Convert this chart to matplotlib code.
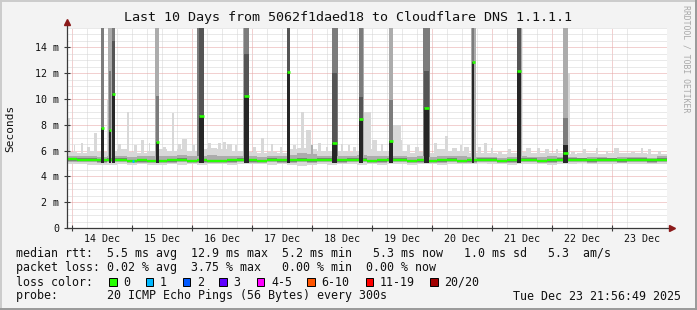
import datetime as dt
import matplotlib
matplotlib.use("Agg")
import matplotlib.pyplot as plt
import matplotlib.dates as mdates
from matplotlib.patches import Rectangle
from matplotlib.lines import Line2D

# ---- data ----
start = dt.datetime(2025, 12, 13, 21, 56, 49)
end = dt.datetime(2025, 12, 23, 21, 56, 49)
bin_hours = 4

# median rtt per 4 h bin (ms)
median_rtt = [5.35, 5.3, 5.3, 5.25, 5.3, 5.3, 5.2, 5.25, 5.2, 5.2,
              5.25, 5.3, 5.2, 5.25, 5.2, 5.2, 5.25, 5.3, 5.25, 5.2,
              5.3, 5.25, 5.25, 5.3, 5.25, 5.3, 5.3, 5.25, 5.3, 5.3,
              5.2, 5.25, 5.3, 5.3, 5.2, 5.25, 5.2, 5.25, 5.3, 5.2,
              5.25, 5.3, 5.3, 5.2, 5.25, 5.3, 5.3, 5.2, 5.25, 5.3,
              5.3, 5.3, 5.25, 5.3, 5.3, 5.25, 5.3, 5.3, 5.25, 5.3]
smoke_low = [4.95, 4.95, 4.9, 4.85, 4.9, 4.95, 4.9, 4.95, 4.9, 4.9,
             4.95, 4.9, 4.95, 4.9, 4.95, 4.95, 4.9, 4.95, 4.95, 4.95,
             4.9, 4.95, 4.9, 4.8, 4.85, 4.95, 4.9, 4.95, 4.95, 4.9,
             4.95, 4.9, 4.95, 4.95, 4.9, 4.95, 4.95, 4.9, 4.95, 4.95,
             4.95, 5.0, 4.95, 4.95, 4.9, 4.95, 4.95, 4.95, 4.9, 4.95,
             4.95, 5.0, 4.95, 4.95, 4.95, 5.0, 4.95, 4.95, 4.95, 4.95]
smoke_mid = [5.6, 5.55, 5.55, 5.5, 5.55, 5.55, 5.5, 5.55, 5.6, 5.55,
             5.55, 5.65, 5.55, 5.6, 5.65, 5.55, 5.55, 5.6, 5.55, 5.5,
             5.55, 5.55, 5.65, 5.85, 5.7, 5.55, 5.55, 5.6, 5.55, 5.65,
             5.6, 5.55, 5.55, 5.55, 5.5, 5.55, 5.5, 5.6, 5.55, 5.55,
             5.5, 5.5, 5.5, 5.45, 5.5, 5.55, 5.5, 5.5, 5.55, 5.5,
             5.5, 5.45, 5.5, 5.5, 5.45, 5.5, 5.5, 5.5, 5.45, 5.55]
smoke_high = [5.9, 5.85, 6.0, 5.9, 6.0, 6.1, 5.9, 5.85, 6.0, 6.1,
              6.0, 6.1, 6.0, 6.1, 6.2, 6.1, 6.0, 6.0, 5.9, 5.85,
              5.9, 5.85, 6.1, 6.2, 6.1, 6.0, 6.0, 6.0, 5.9, 6.0,
              6.1, 6.0, 6.0, 5.95, 5.85, 5.9, 5.85, 6.1, 6.0, 5.95,
              5.85, 5.8, 5.8, 5.75, 5.8, 5.9, 5.8, 5.85, 5.85, 5.8,
              5.75, 5.8, 5.8, 5.75, 5.85, 5.8, 5.8, 5.85, 5.75, 5.75]

# narrow smoke columns: hour after start, width (h), top (ms), density 0..2
tufts = [(0.6, 1.2, 8.5, 0), (3.0, 0.8, 6.4, 0), (6.0, 1.0, 6.6, 0),
         (8.5, 1.0, 6.3, 0), (11.4, 1.6, 7.4, 0), (16.3, 0.8, 9.9, 0),
         (17.8, 3.0, 16.0, 1), (21.0, 1.0, 6.5, 0), (24.5, 1.0, 9.0, 0),
         (27.5, 1.0, 6.4, 0), (30.0, 1.2, 6.8, 0), (33.0, 0.8, 6.6, 0),
         (36.0, 2.0, 16.0, 1), (39.0, 1.0, 6.3, 0), (42.4, 1.2, 8.9, 0),
         (45.0, 1.0, 6.5, 0), (47.0, 2.0, 6.9, 0), (50.5, 1.0, 6.4, 0),
         (53.4, 2.6, 16.0, 2), (57.0, 1.2, 6.6, 0), (61.0, 1.5, 6.6, 0),
         (63.0, 1.0, 6.7, 0), (65.0, 2.0, 6.5, 0), (67.5, 1.0, 6.4, 0),
         (71.6, 2.8, 16.0, 1), (75.0, 1.0, 6.3, 0), (78.0, 1.2, 7.0, 0),
         (82.0, 1.2, 6.5, 0), (85.5, 1.0, 6.3, 0), (88.6, 1.6, 16.0, 1),
         (91.0, 1.0, 6.4, 0), (94.2, 1.6, 9.0, 0), (96.6, 2.0, 7.6, 0),
         (98.0, 1.0, 6.4, 1), (101.0, 1.2, 6.6, 0), (104.0, 1.0, 6.3, 0),
         (107.2, 2.4, 16.0, 2), (110.0, 1.0, 6.5, 0), (112.8, 1.2, 6.4, 0),
         (115.0, 1.0, 6.3, 0), (117.8, 2.2, 16.0, 1), (120.2, 2.8, 9.0, 0),
         (123.0, 2.0, 6.8, 0), (126.0, 1.0, 6.5, 0), (129.6, 1.8, 16.0, 0),
         (131.8, 3.2, 8.0, 0), (133.5, 1.0, 6.8, 0), (136.5, 1.0, 6.4, 0),
         (140.0, 1.4, 6.3, 0), (143.8, 2.6, 16.0, 2), (147.5, 1.2, 6.6, 0),
         (151.6, 1.2, 7.1, 0), (154.8, 2.0, 6.2, 0), (157.5, 1.0, 6.4, 0),
         (160.0, 2.0, 6.3, 0), (162.6, 1.8, 16.0, 1), (165.0, 1.0, 6.3, 0),
         (167.5, 1.2, 6.6, 0), (170.0, 1.0, 6.2, 0), (173.3, 1.6, 5.9, 0),
         (177.0, 1.0, 6.1, 0), (181.4, 1.6, 16.0, 1), (184.6, 2.0, 6.2, 0),
         (188.5, 1.0, 6.2, 0), (192.0, 2.0, 6.1, 0), (196.0, 1.0, 6.1, 0),
         (199.6, 2.8, 12.0, 0), (202.5, 1.5, 5.9, 0), (207.0, 1.0, 6.1, 0),
         (212.0, 1.2, 6.2, 0), (216.0, 1.0, 6.0, 0), (220.0, 2.0, 6.2, 0),
         (226.5, 1.5, 5.9, 0), (230.0, 1.0, 6.2, 0), (233.0, 1.5, 6.1, 0),
         (237.0, 1.0, 6.0, 0)]

# delay spikes: hour after start, width (h), median (ms), smoke layers (top ms, density 0..4)
spikes = [(14.3, 1.2, 7.73, [(7.73, 4), (16.0, 2)]),
          (17.2, 1.0, 7.60, [(7.60, 4), (12.2, 2), (16.0, 1)]),
          (18.5, 1.2, 10.40, [(10.40, 4), (14.5, 3), (16.0, 2)]),
          (36.3, 1.2, 6.65, [(6.65, 4), (10.2, 2), (16.0, 1)]),
          (53.7, 2.0, 8.66, [(8.66, 4), (16.0, 3)]),
          (71.6, 2.0, 10.20, [(10.20, 4), (13.5, 3), (16.0, 2)]),
          (88.5, 1.2, 12.06, [(12.06, 4), (16.0, 3)]),
          (106.9, 2.0, 6.60, [(6.60, 4), (12.0, 3), (16.0, 2)]),
          (117.5, 1.6, 8.43, [(8.43, 4), (10.15, 3), (16.0, 2)]),
          (129.5, 1.4, 6.76, [(6.76, 4), (9.9, 2), (16.0, 1)]),
          (143.7, 2.0, 9.30, [(9.30, 4), (12.2, 3), (16.0, 2)]),
          (162.4, 1.2, 12.87, [(12.87, 4), (16.0, 2)]),
          (180.7, 1.6, 12.17, [(12.17, 4), (16.0, 3)]),
          (199.2, 2.0, 5.80, [(6.4, 4), (8.5, 2), (16.0, 1)])]

# bins with packet loss: hour after start, width (h), median (ms), lost pings
loss_points = [(26.3, 1.0, 5.2, 1)]

day_labels = ["14 Dec", "15 Dec", "16 Dec", "17 Dec", "18 Dec",
              "19 Dec", "20 Dec", "21 Dec", "22 Dec", "23 Dec"]
y_ticks = [0, 2, 4, 6, 8, 10, 12, 14]
y_labels = ["0", "2 m", "4 m", "6 m", "8 m", "10 m", "12 m", "14 m"]

loss_labels = ["0", "1", "2", "3", "4-5", "6-10", "11-19", "20/20"]
loss_colors = ["#26ff00", "#00b8ff", "#0059ff", "#5e00ff", "#ff00ff",
               "#ff5500", "#ff0000", "#a10000"]
loss_box_x = [109, 145.5, 182.5, 219, 256.5, 307, 365.5, 430]

line_rtt = "median rtt:  5.5 ms avg  12.9 ms max  5.2 ms min   5.3 ms now   1.0 ms sd   5.3  am/s"
line_loss = "packet loss: 0.02 % avg  3.75 % max   0.00 % min  0.00 % now"
line_probe = "probe:       20 ICMP Echo Pings (56 Bytes) every 300s"
stamp = "Tue Dec 23 21:56:49 2025"
title = "Last 10 Days from 5062f1daed18 to Cloudflare DNS 1.1.1.1"

# ---- drawing ----
W, H = 697, 310
MONO = "DejaVu Sans Mono"
density_grey = ["#d8d8d8", "#acacac", "#7c7c7c", "#555555", "#262626"]


def tnum(h):
    return mdates.date2num(start + dt.timedelta(hours=h))


def fx(x):
    return x / W


def fy(y):
    return 1 - y / H


fig = plt.figure(figsize=(W / 100, H / 100), dpi=100, facecolor="#f3f3f3")
ax = fig.add_axes([fx(67), fy(228), 600 / W, 200 / H], facecolor="white")
ax.set_xlim(tnum(0), tnum(240))
ax.set_ylim(0, 15.5)

# grid
dots = (0, (1, 1))
hour0 = (24 - start.hour - start.minute / 60 - start.second / 3600)  # first midnight
for k in range(-1, 41):
    h = hour0 + 6 * k - 18
    if 0 < h < 240:
        major = abs((h - hour0) % 24) < 1e-6
        ax.axvline(tnum(h), color="#e6a3a3" if major else "#d4d4d4",
                   lw=0.72, ls=dots, zorder=0.5)
for k in range(1, 32):
    v = 0.5 * k
    major = k % 4 == 0
    ax.axhline(v, color="#e6a3a3" if major else "#d4d4d4", lw=0.72, ls=dots, zorder=0.5)

edges = [tnum(bin_hours * i) for i in range(len(median_rtt) + 1)]
lo = smoke_low + smoke_low[-1:]
hi = smoke_high + smoke_high[-1:]
mid = smoke_mid + smoke_mid[-1:]
med = median_rtt + median_rtt[-1:]

ax.fill_between(edges, lo, hi, step="post", color=density_grey[0], lw=0, zorder=1)
for h, w, top, d in tufts:
    ax.bar(tnum(h), top - 5.5, width=w / 24, bottom=5.5, color=density_grey[d],
           lw=0, zorder=1.2)
ax.fill_between(edges, [m - 0.2 for m in med], mid, step="post",
                color=density_grey[1], lw=0, zorder=1.5)
ax.fill_between(edges, [m - 0.12 for m in med], [m + 0.1 for m in med], step="post",
                color=density_grey[2], lw=0, zorder=1.6)
ax.hlines(median_rtt, edges[:-1], edges[1:], colors=loss_colors[0], lw=1.7, zorder=2)

for h, w, m, layers in spikes:
    bottom = 5.05
    for top, d in layers:
        ax.bar(tnum(h), top - bottom, width=w / 24, bottom=bottom,
               color=density_grey[d], lw=0, zorder=3)
        bottom = top
for h, w, m, layers in spikes:
    ax.hlines(m, tnum(h - w / 2), tnum(h + w / 2), colors=loss_colors[0], lw=1.9, zorder=4)
for h, w, m, lost in loss_points:
    ax.hlines(m, tnum(h - w / 2), tnum(h + w / 2), colors=loss_colors[lost], lw=1.9, zorder=4)

# axes, ticks, arrows
for s in ax.spines.values():
    s.set_visible(False)
axc = "#3a3a3a"
ax.plot([0, 0], [0, 1.025], transform=ax.transAxes, color=axc, lw=0.9, clip_on=False, zorder=5)
ax.plot([0, 1.008], [0, 0], transform=ax.transAxes, color=axc, lw=0.9, clip_on=False, zorder=5)
ax.plot([0], [1.03], marker="^", ms=4.5, color="#8b1a1a", transform=ax.transAxes,
        clip_on=False, zorder=6)
ax.plot([1.009], [0], marker=">", ms=4.5, color="#8b1a1a", transform=ax.transAxes,
        clip_on=False, zorder=6)

midnights = [tnum(hour0 + 24 * i) for i in range(10)]
noons = [tnum(hour0 + 12 + 24 * i) for i in range(10)]
ax.set_xticks(midnights)
ax.set_xticklabels([])
ax.set_xticks(noons, day_labels, minor=True)
ax.tick_params(axis="x", which="major", length=4, direction="inout", color=axc, width=0.8)
ax.tick_params(axis="x", which="minor", length=0, pad=4.5, labelsize=7.2, labelcolor="#111111")
ax.set_yticks(y_ticks, y_labels)
ax.tick_params(axis="y", length=4, direction="inout", color=axc, width=0.8, pad=3.5,
               labelsize=7.2, labelcolor="#111111")
for lab in ax.get_xticklabels(minor=True) + ax.get_yticklabels():
    lab.set_family(MONO)

# texts
fig.text(fx(348.5), fy(18), title, family=MONO, size=9.6, ha="center", va="center",
         color="#111111")
fig.text(fx(10), fy(128), "Seconds", family=MONO, size=8.0, rotation=90,
         ha="center", va="center", color="#111111")
fig.text(fx(686), fy(59), "RRDTOOL / TOBI OETIKER", family=MONO, size=5.9, rotation=270,
         ha="center", va="center", color="#a8a8a8")

leg = dict(family=MONO, size=8.37, ha="left", va="center", color="#111111")
fig.text(fx(16), fy(254), line_rtt, **leg)
fig.text(fx(16), fy(268), line_loss, **leg)
fig.text(fx(16), fy(282), "loss color:", **leg)
fig.text(fx(16), fy(296), line_probe, **leg)
fig.text(fx(681), fy(296), stamp, **dict(leg, ha="right"))
for x, lab, col in zip(loss_box_x, loss_labels, loss_colors):
    fig.add_artist(Rectangle((fx(x), fy(286)), 7.5 / W, 8 / H, transform=fig.transFigure,
                             facecolor=col, edgecolor="black", lw=0.7))
    fig.text(fx(x + 14.5), fy(282), lab, **leg)

# outer shading frame
fig.add_artist(Line2D([0, 1], [fy(0.7), fy(0.7)], transform=fig.transFigure, color="#cbcbcb", lw=1.4))
fig.add_artist(Line2D([fx(0.7), fx(0.7)], [0, 1], transform=fig.transFigure, color="#cbcbcb", lw=1.4))
fig.add_artist(Line2D([0, 1], [fy(309.3), fy(309.3)], transform=fig.transFigure, color="#999999", lw=1.4))
fig.add_artist(Line2D([fx(696.3), fx(696.3)], [0, 1], transform=fig.transFigure, color="#999999", lw=1.4))

fig.savefig("out.png", dpi=100, facecolor=fig.get_facecolor())
